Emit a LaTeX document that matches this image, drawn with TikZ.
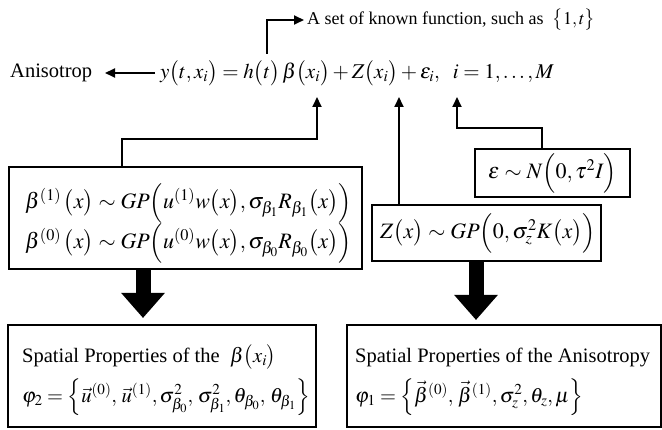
\documentclass[tikz,border=0pt]{standalone}
\usepackage{mathptmx}
\usepackage[no-math]{fontspec}
\setmainfont{Liberation Serif}
\usetikzlibrary{arrows.meta}
\begin{document}
\begin{tikzpicture}[x=1pt,y=-1pt,
  box/.style={draw, line width=1.5pt, inner sep=0pt},
  conn/.style={line width=1.8pt, -{Triangle[length=10pt,width=9pt]}},
  fat/.style={line width=15pt, -{Triangle[length=25pt,width=42pt]}},
  txt/.style={inner sep=0pt, anchor=west, font=\fontsize{20.5}{24}\selectfont},
  eqtxt/.style={inner sep=0pt, anchor=west, font=\fontsize{21}{25}\selectfont},
  bigtxt/.style={inner sep=0pt, anchor=west, font=\fontsize{22}{26}\selectfont},
  smalltxt/.style={inner sep=0pt, anchor=west, font=\fontsize{18}{22}\selectfont},
]
\useasboundingbox (0,0) rectangle (662,430);
% top line
\node[smalltxt] (known) at (307,20) {A set of known function, such as \ $\bigl\{1,t\bigr\}$};
\node[txt] (aniso) at (10,73) {Anisotrop};
\node[eqtxt] (eq) at (160,73) {$y\bigl(t,x_i\bigr)=h\bigl(t\bigr)\,\beta\bigl(x_i\bigr)+Z\bigl(x_i\bigr)+\varepsilon_i,\ \ i=1,\ldots,M$};
% boxes
\node[box, minimum width=353pt, minimum height=102pt] (bbox) at (185.5,218) {};
\node[bigtxt] (b1) at (25,203) {$\beta^{(1)}\,\bigl(x\bigr)\sim GP\Bigl(u^{(1)}w\bigl(x\bigr),\sigma_{\beta_1}R_{\beta_1}\bigl(x\bigr)\Bigr)$};
\node[bigtxt] (b0) at (25,243) {$\beta^{(0)}\,\bigl(x\bigr)\sim GP\Bigl(u^{(0)}w\bigl(x\bigr),\sigma_{\beta_0}R_{\beta_0}\bigl(x\bigr)\Bigr)$};
\node[box, minimum width=229pt, minimum height=56pt] (zbox) at (486.5,233) {};
\node[bigtxt] (zt) at (380,233) {$Z\bigl(x\bigr)\sim GP\Bigl(0,\sigma_z^2K\bigl(x\bigr)\Bigr)$};
\node[box, minimum width=155pt, minimum height=48pt] (ebox) at (552.5,173) {};
\node[bigtxt] (et) at (488,173) {$\varepsilon\sim N\Bigl(0,\tau^2 I\Bigr)$};
\node[box, minimum width=308pt, minimum height=102pt] (lbox) at (162,376) {};
\node[txt] (l1) at (22,357) {Spatial Properties of the \ $\beta\bigl(x_i\bigr)$};
\node[txt] (l2) at (22,397) {$\varphi_2=\Bigl\{\vec u^{(0)},\,\vec u^{(1)},\sigma^2_{\beta_0},\,\sigma^2_{\beta_1},\theta_{\beta_0},\,\theta_{\beta_1}\Bigr\}$};
\node[box, minimum width=314pt, minimum height=102pt] (rbox) at (504,376) {};
\node[txt] (r1) at (355,357) {Spatial Properties of the Anisotropy};
\node[txt] (r2) at (355,397) {$\varphi_1=\Bigl\{\vec\beta^{(0)},\,\vec\beta^{(1)},\sigma^2_z,\theta_z,\mu\Bigr\}$};
% connectors
\coordinate (hbot) at (267,54);
\coordinate (htop) at (267,20);
\draw[conn, shorten >=3pt] (hbot) -- (htop) -- (known.west);
\coordinate (atip) at (105,73);
\draw[conn] ([xshift=-5pt]eq.west) -- (atip);
\coordinate (btip) at (317,97);
\coordinate (ztip) at (399,97);
\coordinate (etip) at (457,97);
\draw[conn] (bbox.north -| 122,0) |- (317,139) -- (btip);
\draw[conn] (zbox.north -| ztip) -- (ztip);
\draw[conn] (ebox.north -| 542,0) |- (457,128) -- (etip);
\coordinate (ltip) at (143,318);
\coordinate (rtip) at (476,320);
\draw[fat] (bbox.south -| ltip) -- (ltip);
\draw[fat] (zbox.south -| rtip) -- (rtip);
\end{tikzpicture}
\end{document}
